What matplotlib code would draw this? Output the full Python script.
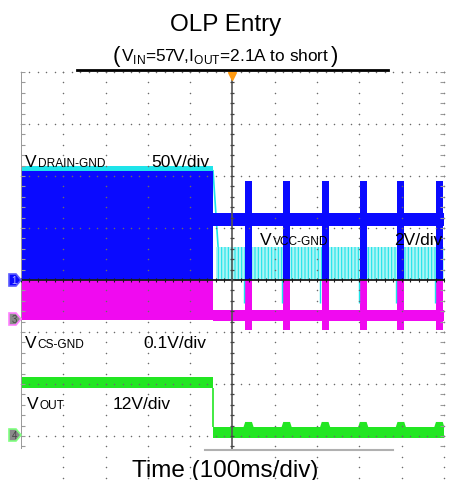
import numpy as np
import matplotlib
matplotlib.use("Agg")
import matplotlib.pyplot as plt
from matplotlib.patches import Rectangle, Polygon
from matplotlib.lines import Line2D

plt.rcParams["font.family"] = ["Liberation Sans", "DejaVu Sans"]
plt.rcParams["mathtext.fontset"] = "custom"
plt.rcParams["mathtext.rm"] = "Liberation Sans"
plt.rcParams["hatch.linewidth"] = 0.8

# ---- capture data (time in ms, 100 ms/div; levels in screen divisions, centre line = 0)
fault_ms = 454
burst_ms = [538, 628, 719, 809, 898, 989]
burst_width_ms = 16

drain_pre = (0.0, 2.10)          # switching envelope before the short
drain_idle = (1.04, 1.29)        # drain sits at VIN between bursts
drain_burst_top = 1.90

vcc_pre = (2.10, 2.19)
vcc_hiccup = (0.0, 0.63)

cs_pre = (-0.77, 0.0)
cs_idle = (-0.79, -0.58)
cs_burst_bottom = -0.96

vout_pre = (-2.07, -1.87)
vout_post = (-3.03, -2.83)
vout_bump_top = -2.73

BLUE = "#0a0aff"
CYAN = "#1ee4ea"
MAGENTA = "#f00af0"
GREEN = "#22e622"

W, H = 451, 481
fig = plt.figure(figsize=(W / 100, H / 100), dpi=100)
ax = fig.add_axes([21 / W, 1 - 450 / H, 423 / W, 377 / H])
ax.set_xlim(0, 1000)
ax.set_ylim(-3.25, 4.0)
ax.axis("off")

half = burst_width_ms / 2

# Vout
ax.fill_between([0, fault_ms], *vout_pre, color=GREEN, lw=0, zorder=2)
ax.fill_between([fault_ms, 1000], *vout_post, color=GREEN, lw=0, zorder=2)
ax.vlines(fault_ms, vout_post[1], vout_pre[0], color=GREEN, lw=1.2, zorder=2)
for b in burst_ms:
    ax.add_patch(Polygon([(b - 12, vout_post[1]), (b - 8, vout_bump_top),
                          (b + 8, vout_bump_top), (b + 12, vout_post[1])],
                         closed=True, color=GREEN, lw=0, zorder=2))

# Vcs
ax.fill_between([0, fault_ms], *cs_pre, color=MAGENTA, lw=0, zorder=3)
ax.fill_between([fault_ms, 1000], *cs_idle, color=MAGENTA, lw=0, zorder=3)
for b in burst_ms:
    ax.add_patch(Rectangle((b - half, cs_burst_bottom), burst_width_ms,
                           -cs_burst_bottom, color=MAGENTA, lw=0, zorder=3))

# Vvcc
ax.fill_between([0, fault_ms], *vcc_pre, color=CYAN, lw=0, zorder=5.5)
ax.plot([fault_ms, fault_ms + 12], [vcc_pre[0], vcc_hiccup[1]], color=CYAN,
        lw=1.2, zorder=4)
ax.add_patch(Rectangle((fault_ms + 8, vcc_hiccup[0]), 1000 - fault_ms - 8,
                       vcc_hiccup[1] - vcc_hiccup[0], facecolor="#aef5f5",
                       edgecolor=CYAN, hatch="|||||", lw=0, zorder=4))
for b in burst_ms:
    ax.vlines(b - half - 3, -0.45, 0, color=CYAN, lw=1.0, zorder=4)

# Vdrain
ax.fill_between([0, fault_ms], *drain_pre, color=BLUE, lw=0, zorder=5)
ax.fill_between([fault_ms, 1000], *drain_idle, color=BLUE, lw=0, zorder=5)
for b in burst_ms:
    ax.add_patch(Rectangle((b - half, 0), burst_width_ms, drain_burst_top,
                           color=BLUE, lw=0, zorder=5))

# graticule
sub_y = np.arange(-4, 4.001, 0.2)
sub_x = np.arange(0, 1000.1, 20)
for gx in range(100, 1001, 100):
    if gx != 500:
        ax.scatter(np.full_like(sub_y, gx), sub_y, s=1.2, c="#6a6a6a",
                   lw=0, zorder=6, clip_on=False)
for gy in range(-4, 5):
    if gy != 0:
        ax.scatter(sub_x, np.full_like(sub_x, gy), s=1.2, c="#6a6a6a",
                   lw=0, zorder=6, clip_on=False)

ax.axvline(0, color="#9a9a9a", lw=1.4, zorder=6)
ax.scatter(np.full_like(sub_y, 4), sub_y, marker="_", s=10, c="#9a9a9a",
           lw=0.8, zorder=6)
ax.scatter(np.full_like(sub_y, 996), sub_y, marker="_", s=8, c="#9a9a9a",
           lw=0.8, zorder=6)
ax.axhline(0, color="#1a1a1a", lw=1.3, zorder=7)
ax.scatter(sub_x, np.zeros_like(sub_x), marker="|", s=10, c="#1a1a1a",
           lw=0.8, zorder=7)
ax.axvline(500, color="#555555", lw=1.2, zorder=7)
ax.scatter(np.full_like(sub_y, 500), sub_y, marker="_", s=12, c="#444444",
           lw=0.9, zorder=7)
ax.plot([500], [3.93], marker="v", ms=6, color="#ff9a10", zorder=8,
        clip_on=False)


def fx(px):
    return px / W


def fy(py):
    return 1 - py / H


# frame fragments
fig.add_artist(Line2D([fx(77), fx(388)], [fy(71), fy(71)], color="black", lw=2))
fig.add_artist(Line2D([fx(205), fx(393)], [fy(450.5), fy(450.5)],
                      color="#b0b0b0", lw=1.5))


# channel reference markers
def chan_marker(py, label, face, edge, tcolor):
    pts = [(fx(9), fy(py - 6)), (fx(16), fy(py - 6)), (fx(21), fy(py)),
           (fx(16), fy(py + 6)), (fx(9), fy(py + 6))]
    fig.add_artist(Polygon(pts, closed=True, facecolor=face, edgecolor=edge,
                           lw=1.2, transform=fig.transFigure))
    fig.text(fx(14), fy(py), label, fontsize=7, color=tcolor,
             ha="center", va="center")


chan_marker(281, "1", BLUE, "#5a5aff", "#b0b0ff")
chan_marker(320, "3", "#8a8a8a", "#ff80ff", "#444444")
chan_marker(436, "4", "#8a8a8a", "#80ff80", "#444444")

# titles
fig.text(0.5, fy(31), "OLP Entry", fontsize=17.5, ha="center", va="baseline")
sub = fig.text(0.5, fy(61), r"V$_{\rm IN}$=57V,I$_{\rm OUT}$=2.1A to short",
               fontsize=12.4, ha="center", va="baseline")
fig.text(0.5, fy(477), "Time (100ms/div)", fontsize=17.5, ha="center",
         va="baseline")

renderer = fig.canvas.get_renderer()
bb = sub.get_window_extent(renderer)
fig.text(bb.x0 / W - 0.002, fy(62), "(", fontsize=16, ha="right", va="baseline")
fig.text(bb.x1 / W + 0.002, fy(62), ")", fontsize=16, ha="left", va="baseline")


def chan_label(px, py, big, small):
    t = fig.text(fx(px), fy(py), big, fontsize=12.5, va="baseline", zorder=9)
    b = t.get_window_extent(renderer)
    fig.text(b.x1 / W + 0.002, fy(py), small, fontsize=8.6, va="baseline",
             zorder=9)


chan_label(25, 167, "V", "DRAIN-GND")
fig.text(fx(151), fy(167), "50V/div", fontsize=12.5, va="baseline", zorder=9)
chan_label(260, 245, "V", "VCC-GND")
fig.text(fx(394), fy(245), "2V/div", fontsize=12.5, va="baseline", zorder=9)
chan_label(25, 348, "V", "CS-GND")
fig.text(fx(143), fy(348), "0.1V/div", fontsize=12.5, va="baseline", zorder=9)
chan_label(27, 409, "V", "OUT")
fig.text(fx(113), fy(409), "12V/div", fontsize=12.5, va="baseline", zorder=9)

fig.savefig("out.png", dpi=100)
